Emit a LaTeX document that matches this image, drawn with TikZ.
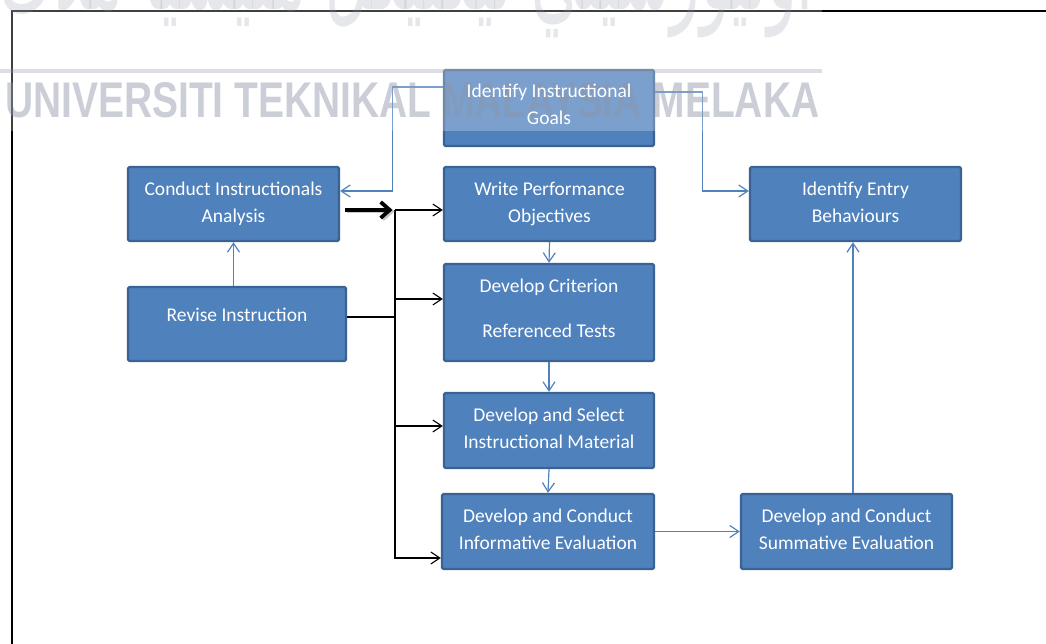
\documentclass[tikz,border=0pt]{standalone}
\usepackage{graphicx}
\usepackage{fontspec}
\setmainfont{Carlito}
\newfontfamily\markfont{Liberation Sans}
\newfontfamily\jawifont[Script=Arabic]{DejaVu Sans}
\TeXXeTstate=1
\usetikzlibrary{arrows.meta}

\definecolor{boxfill}{HTML}{4F81BD}
\definecolor{boxedge}{HTML}{3A6294}
\definecolor{flowblue}{HTML}{4F81BD}
\definecolor{markgray}{HTML}{8C94A8}

\newcommand\boxfont{\fontsize{19.5}{27}\selectfont}
% depth strut for a last line without descenders
\newcommand\lowend{\rule[-4.5pt]{0pt}{4.5pt}}

\begin{document}
\begin{tikzpicture}[x=1pt,y=-1pt,
  stepbox/.style={draw=boxedge, line width=2.4pt, fill=boxfill, rounded corners=1.5pt,
    text=white, align=center, inner sep=0pt, font=\boxfont},
  steptext/.style={text=white, align=center, inner sep=0pt, font=\boxfont},
  blueflow/.style={draw=flowblue, line width=1.2pt,
    -{Straight Barb[length=9pt,width=12pt]}},
  busline/.style={draw=black, line width=1.1pt},
  busarrow/.style={busline, -{Straight Barb[length=9pt,width=12pt]}},
  bigarrow/.style={line width=3.8pt, -{Straight Barb[length=9pt,width=16pt]}},
  watermark/.style={text=markgray, opacity=0.45, inner sep=0pt}]

\clip (0,0) rectangle (1046,644);
\fill[white] (0,0) rectangle (1046,644);

% page frame
\draw[line width=2pt] (12,644) -- (12,11) -- (1046,11);

% process steps
\node[stepbox, minimum width=210pt, minimum height=76pt] (goals) at (549,108) {};
\node[stepbox, minimum width=211pt, minimum height=74pt] (conduct) at (233.5,204)
  {Conduct Instructionals\\Analysis};
\node[stepbox, minimum width=211pt, minimum height=74pt] (write) at (549.5,204)
  {Write Performance\\Objectives};
\node[stepbox, minimum width=211pt, minimum height=74pt] (entry) at (855.5,204)
  {Identify Entry\\Behaviours\lowend};
\node[stepbox, minimum width=218pt, minimum height=74pt] (revise) at (237,324)
  {Revise Instruction\\[-8pt]\mbox{}};
\node[stepbox, minimum width=210pt, minimum height=97pt] (criterion) at (549,312.5)
  {Develop Criterion\\[18pt]Referenced Tests\rule[-8pt]{0pt}{8pt}};
\node[stepbox, minimum width=210pt, minimum height=75pt] (material) at (549,430.5)
  {Develop and Select\\Instructional Material\lowend};
\node[stepbox, minimum width=212pt, minimum height=75pt] (inform) at (548,531.5)
  {Develop and Conduct\\Informative Evaluation\lowend};
\node[stepbox, minimum width=211pt, minimum height=75pt] (summ) at (846.5,531.5)
  {Develop and Conduct\\Summative Evaluation\lowend};

% blue flow connectors
\draw[blueflow] ([yshift=21pt]goals.west) -- ++(-50,0) |- ([yshift=13pt]conduct.east);
\draw[blueflow] ([yshift=16pt]goals.east) -- ++(47,0) |- ([yshift=13pt]entry.west);
\draw[blueflow] (conduct.south |- revise.north) -- (conduct.south);
\draw[blueflow] (write.south) -- (criterion.north);
\draw[blueflow] (criterion.south) -- (material.north);
\draw[blueflow] (material.south) -- (inform.north);
\draw[blueflow] (inform.east) -- (summ.west);
\coordinate (sumtop) at ([xshift=6.5pt]summ.north);
\draw[blueflow] (sumtop) -- (sumtop |- entry.south);

% black distribution bus
\coordinate (bustop) at (395,210);
\coordinate (busbot) at (395,559);
\coordinate (c2) at ([yshift=13.5pt]criterion.west);
\coordinate (c3) at ([yshift=4.5pt]material.west);
\coordinate (c4) at ([yshift=-26.5pt]inform.west);
\coordinate (rv) at ([yshift=7pt]revise.east);
\draw[busline] (bustop) -- (busbot);
\draw[busarrow] (bustop) -- (bustop -| write.west);
\draw[busarrow] (bustop |- c2) -- (c2);
\draw[busarrow] (bustop |- c3) -- (c3);
\draw[busarrow] (bustop |- c4) -- (c4);
\draw[busline] (rv) -- (rv -| bustop);
\draw[bigarrow, black!30, opacity=0.7, shorten >=2pt]
  ([xshift=6.5pt,yshift=-7.5pt]conduct.east) -- ([xshift=1.5pt,yshift=-1.5pt]bustop);
\draw[bigarrow, shorten >=2.5pt] ([xshift=5pt,yshift=-6pt]conduct.east) -- (bustop);

% university watermark
\fill[white, opacity=0.25] (0,0) rectangle (822,131);
\draw[line width=4pt, markgray, opacity=0.3] (0,71) -- (822,71);
\node[watermark, anchor=base west] (uname) at (5,118)
  {\resizebox{814pt}{35pt}{\markfont\bfseries UNIVERSITI TEKNIKAL MALAYSIA MELAKA}};
\node[watermark, opacity=0.22, anchor=base east] (jname) at (814,10)
  {\scalebox{1}[1.9]{\resizebox{814pt}{!}{\jawifont\beginR اونيورسيتي تيکنيکل مليسيا ملاک\endR}}};

% label of the first step, set above the watermark
\node[steptext] (goalstext) at ([yshift=2pt]goals.center) {Identify Instructional\\Goals\lowend};
\end{tikzpicture}
\end{document}
